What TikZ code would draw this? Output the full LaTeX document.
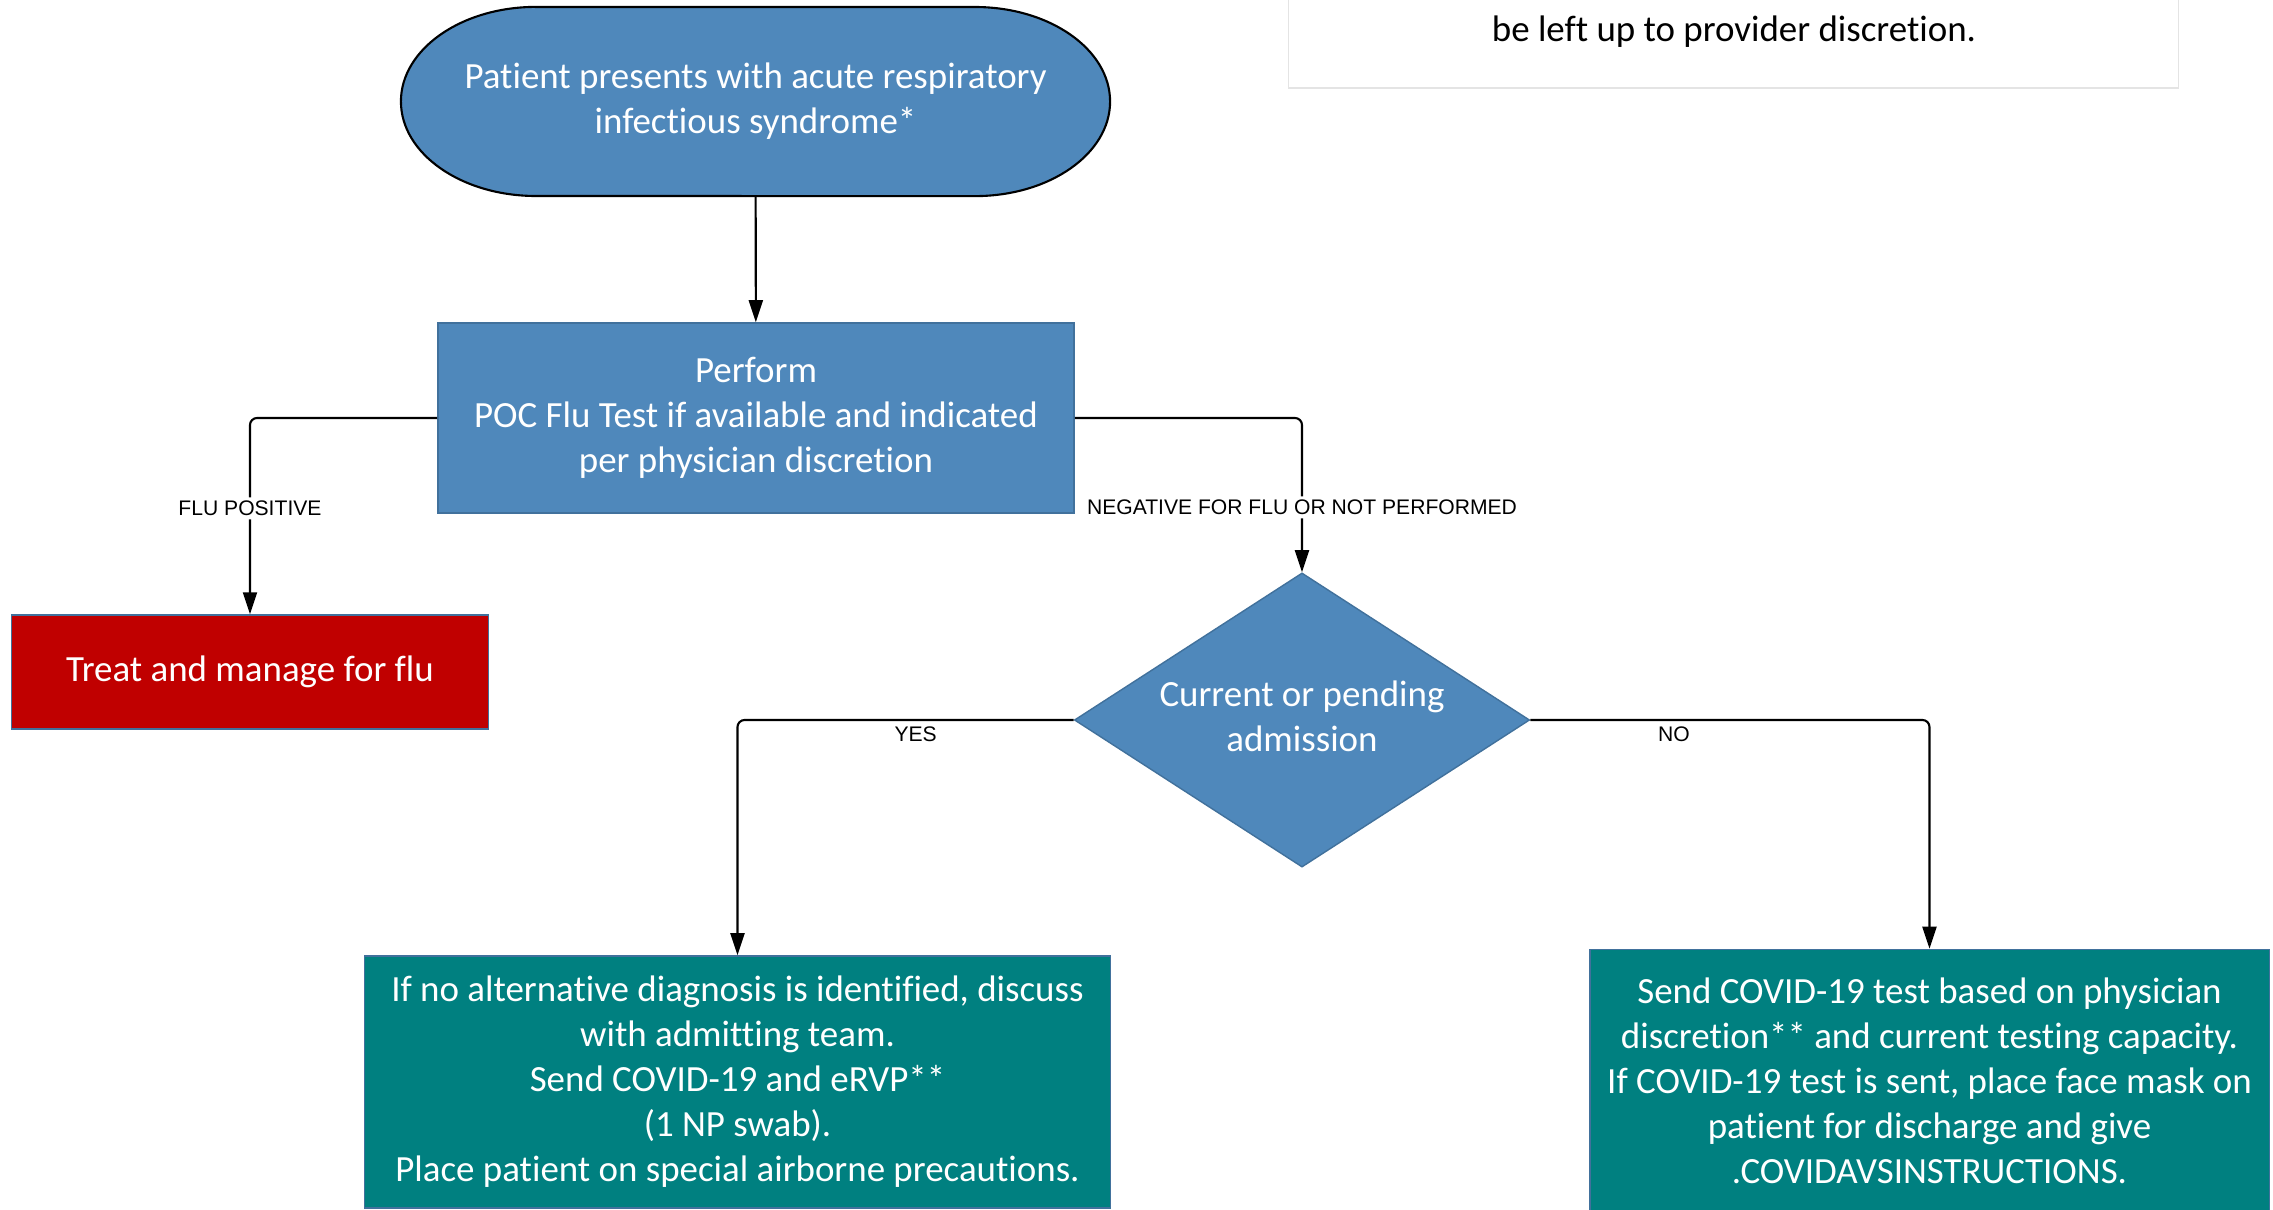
\documentclass[tikz,border=0pt]{standalone}
\usepackage{fontspec}
\setmainfont{Carlito}[Ligatures=NoCommon]
\newfontfamily\labelfont{Liberation Sans}
\usetikzlibrary{shapes.geometric,arrows.meta}
\definecolor{boxblue}{RGB}{79,136,187}
\definecolor{edgeblue}{RGB}{65,113,156}
\definecolor{flured}{RGB}{192,0,0}
\definecolor{covidteal}{RGB}{0,128,128}
\definecolor{notegray}{RGB}{228,228,228}

\tikzset{
  boxtext/.style={text=white, font=\fontsize{10.5}{12.8}\selectfont, align=center, inner sep=0pt},
  bluebox/.style={boxtext, rectangle, fill=boxblue, draw=edgeblue, line width=0.4pt},
  flubox/.style={boxtext, rectangle, fill=flured, draw=edgeblue, line width=0.4pt},
  tealbox/.style={boxtext, rectangle, fill=covidteal, draw=edgeblue, line width=0.4pt},
  decision/.style={diamond, inner sep=0pt, fill=boxblue, draw=edgeblue, line width=0.4pt},
  startedge/.style={fill=boxblue, draw=black, line width=0.6pt},
  flow/.style={draw=black, line width=0.6pt, rounded corners=2pt,
    -{Triangle[length=0.22cm,width=0.14cm]}},
  flowlabel/.style={font=\labelfont\fontsize{6}{7}\selectfont, fill=white, inner sep=1pt},
  sidelabel/.style={font=\labelfont\fontsize{6}{7}\selectfont, inner sep=1.5pt, below}
}

\begin{document}
\begin{tikzpicture}[x=0.01cm,y=-0.01cm]
\useasboundingbox (0,0) rectangle (2273,1209);

% note box, cut by the top edge
\node[draw=notegray, fill=white, line width=0.4pt, minimum width=8.89cm, minimum height=0.98cm,
  inner sep=0pt] (note) at (1733.5,39) {};
\node[font=\fontsize{10.5}{12.8}\selectfont, inner sep=0pt] (notetext) at (1734,32)
  {be left up to provider discretion.};

% start terminator
\draw[startedge]
  (536,7) -- (975,7)
  arc[start angle=90,end angle=-90,x radius=1.35cm,y radius=0.945cm] --
  (536,196)
  arc[start angle=270,end angle=90,x radius=1.35cm,y radius=0.945cm] -- cycle;
\node[boxtext, minimum width=7.09cm, minimum height=1.89cm] (start) at (755.5,101.5)
  {Patient presents with acute respiratory\\infectious syndrome*};

\node[bluebox, minimum width=6.36cm, minimum height=1.90cm] (perform) at (756,418)
  {Perform\\POC Flu Test if available and indicated\\per physician discretion};
\node[flubox, minimum width=4.77cm, minimum height=1.14cm] (flu) at (250,672)
  {Treat and manage for flu};
\node[decision, minimum width=4.55cm, minimum height=2.94cm,
  label={[boxtext, yshift=0.04cm]center:Current or pending\\admission}] (admit) at (1302,720) {};
\node[tealbox, minimum width=7.45cm, minimum height=2.52cm] (inpatient) at (737.5,1082)
  {If no alternative diagnosis is identified, discuss\\with admitting team.\\Send COVID-19 and eRVP**\\(1 NP swab).\\Place patient on special airborne precautions.};
\node[tealbox, minimum width=6.79cm, minimum height=2.62cm] (discharge) at (1929.5,1080.5)
  {Send COVID-19 test based on physician\\discretion** and current testing capacity.\\If COVID-19 test is sent, place face mask on\\patient for discharge and give\\.COVIDAVSINSTRUCTIONS.};

% connectors
\draw[flow] (start) -- (perform);
\draw[flow] (perform.west) -| node[flowlabel, pos=0.73] {FLU POSITIVE} (flu.north);
\draw[flow] (perform.east) -| node[flowlabel, pos=0.79] {NEGATIVE FOR FLU OR NOT PERFORMED} (admit.north);
\draw[flow] (admit.west) -| node[sidelabel, pos=0.235] {YES} (inpatient.north);
\draw[flow] (admit.east) -| node[sidelabel, pos=0.18] {NO} (discharge.north);
\end{tikzpicture}
\end{document}
